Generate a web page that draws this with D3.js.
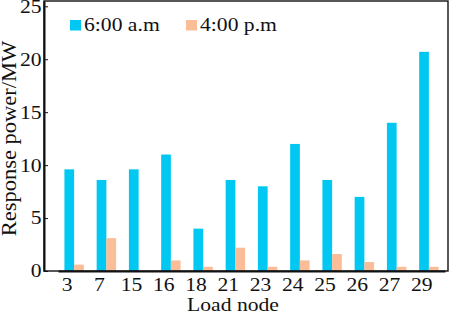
<!DOCTYPE html>
<html>
<head>
<meta charset="utf-8">
<script src="https://cdn.jsdelivr.net/npm/d3@7"></script>
<style>
    body { margin: 0; background: #fff; }
</style>
</head>
<body>
<svg id="chart" width="450" height="313"></svg>
<script>
const loadNodes = ["3", "7", "15", "16", "18", "21", "23", "24", "25", "26", "27", "29"];
const morningPower = [9.6, 8.6, 9.6, 11.0, 4.0, 8.6, 8.0, 12.0, 8.6, 7.0, 14.0, 20.7];
const afternoonPower = [0.6, 3.1, 0, 1.0, 0.4, 2.2, 0.4, 1.0, 1.6, 0.85, 0.4, 0.4];
const seriesNames = ["6:00 a.m", "4:00 p.m"];
const seriesColors = ["#00c8f2", "#f9bd98"];
const yTicks = [0, 5, 10, 15, 20, 25];

const FONT = "Liberation Serif";
const FONT_SIZE = 18.5;
const STRETCH = "scale(1.17,1)";

let svg = d3.select("#chart")
    .style('display', 'block')
    .style('font-family', FONT);

let plot = { left: 44, right: 448, top: 1, bottom: 271 };

let x0 = d3.scaleBand()
    .domain(loadNodes)
    .range([58, 445]);
let x1 = d3.scaleBand()
    .domain(seriesNames)
    .range([0, x0.bandwidth()])
    .paddingOuter(0.66);
let y = d3.scaleLinear()
    .domain([0, 25.5])
    .range([plot.bottom, plot.top]);

let color = d3.scaleOrdinal().domain(seriesNames).range(seriesColors);

let rows = loadNodes.map((node, i) => ({
    node,
    values: [
        { series: seriesNames[0], val: morningPower[i] },
        { series: seriesNames[1], val: afternoonPower[i] }
    ]
}));

function styleText(sel) {
    sel.style('font-family', FONT)
        .attr('font-size', FONT_SIZE)
        .attr('fill', '#111');
}

// bars
let groups = svg.append('g')
    .attr("id", 'bars-g')
    .selectAll('g')
    .data(rows)
    .enter()
    .append('g')
    .attr('transform', d => "translate(" + x0(d.node) + ",0)");

groups.selectAll('rect')
    .data(d => d.values)
    .enter()
    .append('rect')
    .attr('x', d => x1(d.series))
    .attr('width', x1.bandwidth())
    .attr('y', d => y(d.val))
    .attr('height', d => y(0) - y(d.val))
    .attr('fill', d => color(d.series));

// frame
svg.append('rect')
    .attr('x', plot.left)
    .attr('y', plot.top)
    .attr('width', plot.right - plot.left)
    .attr('height', plot.bottom - plot.top)
    .attr('fill', 'none')
    .attr('stroke', '#111')
    .attr('stroke-width', 1.4);

// y axis, ticks pointing inward
let yAxis = svg.append('g')
    .attr('transform', "translate(" + plot.left + ",0)")
    .call(d3.axisLeft(y)
        .tickValues(yTicks)
        .tickSizeInner(-4)
        .tickSizeOuter(0)
        .tickPadding(2));
yAxis.select('.domain')
    .attr('stroke', '#111')
    .attr('stroke-width', 2);
yAxis.selectAll('.tick line').attr('stroke', '#111');
yAxis.selectAll('.tick text')
    .call(styleText)
    .attr('transform', STRETCH);

// x axis, labels only
let xAxis = svg.append('g')
    .attr('transform', "translate(0," + plot.bottom + ")")
    .call(d3.axisBottom(x0).tickSize(0).tickPadding(7));
xAxis.select('.domain')
    .attr('stroke', '#111')
    .attr('stroke-width', 2);
xAxis.selectAll('.tick text')
    .call(styleText)
    .attr('x', -6)
    .attr('transform', STRETCH);

// axis titles
svg.append('text')
    .attr('transform', "translate(233,310.5) " + STRETCH)
    .attr('text-anchor', 'middle')
    .call(styleText)
    .text("Load node");

svg.append('text')
    .attr('transform', "translate(15.5,138.5) rotate(-90) scale(1,0.9)")
    .attr('text-anchor', 'middle')
    .call(styleText)
    .attr('font-size', 22.5)
    .text("Response power/MW");

// legend
let legendX = [70, 186];
let legend = svg.append('g')
    .attr("id", 'legend-g')
    .selectAll('g')
    .data(seriesNames)
    .enter()
    .append('g')
    .attr('transform', (d, i) => "translate(" + legendX[i] + ",20)");

legend.append('rect')
    .attr('width', 11)
    .attr('height', 10.5)
    .attr('fill', d => color(d));

legend.append('text')
    .attr('transform', "translate(14,11) " + STRETCH)
    .call(styleText)
    .text(d => d);
</script>
</body>
</html>
